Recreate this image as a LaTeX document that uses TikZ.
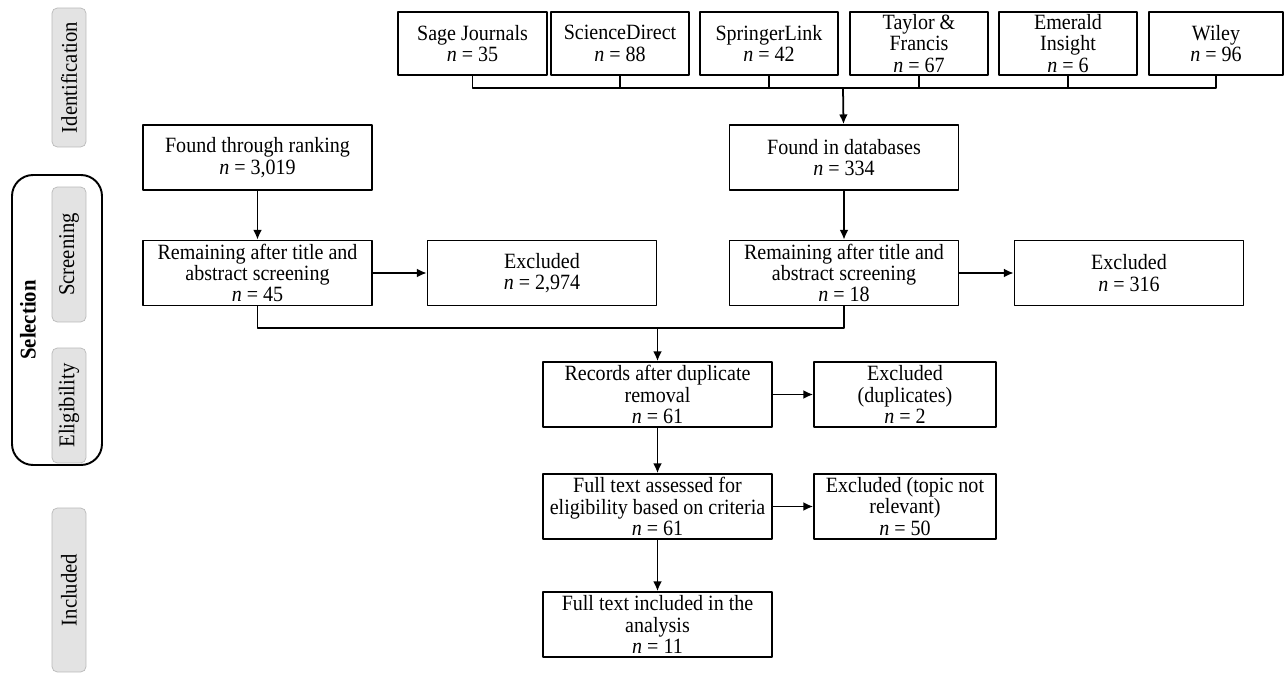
\documentclass[tikz,border=0pt]{standalone}
\usepackage{fontspec}
\setmainfont[FakeStretch=0.92]{Liberation Serif}
\usetikzlibrary{arrows.meta}
\usetikzlibrary{shapes}

\tikzset{
  box/.style={draw, line width=1pt, align=center, inner sep=0pt,
    minimum width=4.58cm, minimum height=1.3cm, font=\fontsize{12.4}{12.2}\selectfont},
  srcbox/.style={box, minimum width=2.76cm, minimum height=1.26cm},
  phase/.style={draw=gray!55, fill=gray!22, rounded corners=3pt, rotate=90,
    minimum height=0.68cm, font=\fontsize{12.8}{13}\selectfont},
  link/.style={line width=1pt},
  arr/.style={link, -{Latex[length=5.5pt,width=5pt]}}
}

\begin{document}
\begin{tikzpicture}[x=0.02cm, y=-0.02cm, line join = round]

\useasboundingbox (0,0) rectangle (1285,675);

% phase labels on the left
\node[phase, minimum width=2.78cm] (ident) at (69,77.5) {Identification};
\node[phase, minimum width=2.70cm] (screen) at (69,254.5) {Screening};
\node[phase, minimum width=2.30cm] (elig) at (69,405.5) {Eligibility};
\node[phase, minimum width=3.28cm] (incl) at (69,590) {Included};
\draw[line width=1.1pt, rounded corners=12pt] (12,175) rectangle (102,465); % selection frame
\node[rotate=90, font=\fontsize{12.8}{13}\selectfont\bfseries] (selection) at (28,320) {Selection};

% databases
\node[srcbox, minimum width=2.98cm] (sage) at (472.5,43.5) {Sage Journals\\\textit{n} = 35};
\node[srcbox] (scidir) at (620,43.5) {ScienceDirect\\\textit{n} = 88};
\node[srcbox] (springer) at (769,43.5) {SpringerLink\\\textit{n} = 42};
\node[srcbox] (taylor) at (919,43.5) {Taylor \&\\Francis\\\textit{n} = 67};
\node[srcbox] (emerald) at (1068,43.5) {Emerald\\Insight\\\textit{n} = 6};
\node[srcbox, minimum width=2.68cm] (wiley) at (1216,43.5) {Wiley\\\textit{n} = 96};
\coordinate (bus) at (843,88); % joins the database lines

% two streams
\node[box] (ranking) at (257.5,157.5) {Found through ranking\\\textit{n} = 3,019};
\node[box] (found) at (844,157.5) {Found in databases\\\textit{n} = 334};
\node[box] (remleft) at (257.5,273) {Remaining after title and\\abstract screening\\\textit{n} = 45};
\node[box] (exleft) at (542,273) {Excluded\\\textit{n} = 2,974};
\node[box] (remright) at (844,273) {Remaining after title and\\abstract screening\\\textit{n} = 18};
\node[box] (exright) at (1129,273) {Excluded\\\textit{n} = 316};
\coordinate (merge) at (657.5,328); % joins both streams

% merged records
\node[box] (records) at (657.5,394.5) {Records after duplicate\\removal\\\textit{n} = 61};
\node[box, minimum width=3.64cm] (exdup) at (905,394.5) {Excluded\\(duplicates)\\\textit{n} = 2};
\node[box] (fulltext) at (657.5,506.5) {Full text assessed for\\eligibility based on criteria\\\textit{n} = 61};
\node[box, minimum width=3.64cm] (extopic) at (905,506.5) {Excluded (topic not\\relevant)\\\textit{n} = 50};
\node[box] (included) at (657.5,624.5) {Full text included in the\\analysis\\\textit{n} = 11};

% connectors
\foreach \src in {sage,scidir,springer,taylor,emerald,wiley}
  \draw[link] (\src.south) |- (bus);
\draw[arr] (bus) -- (found);
\draw[arr] (ranking) -- (remleft);
\draw[arr] (found) -- (remright);
\draw[arr] (remleft) -- (exleft);
\draw[arr] (remright) -- (exright);
\draw[link] (remleft.south) |- (merge);
\draw[link] (remright.south) |- (merge);
\draw[arr] (merge) -- (records);
\draw[arr] (records) -- (exdup);
\draw[arr] (records) -- (fulltext);
\draw[arr] (fulltext) -- (extopic);
\draw[arr] (fulltext) -- (included);

\end{tikzpicture}
\end{document}
